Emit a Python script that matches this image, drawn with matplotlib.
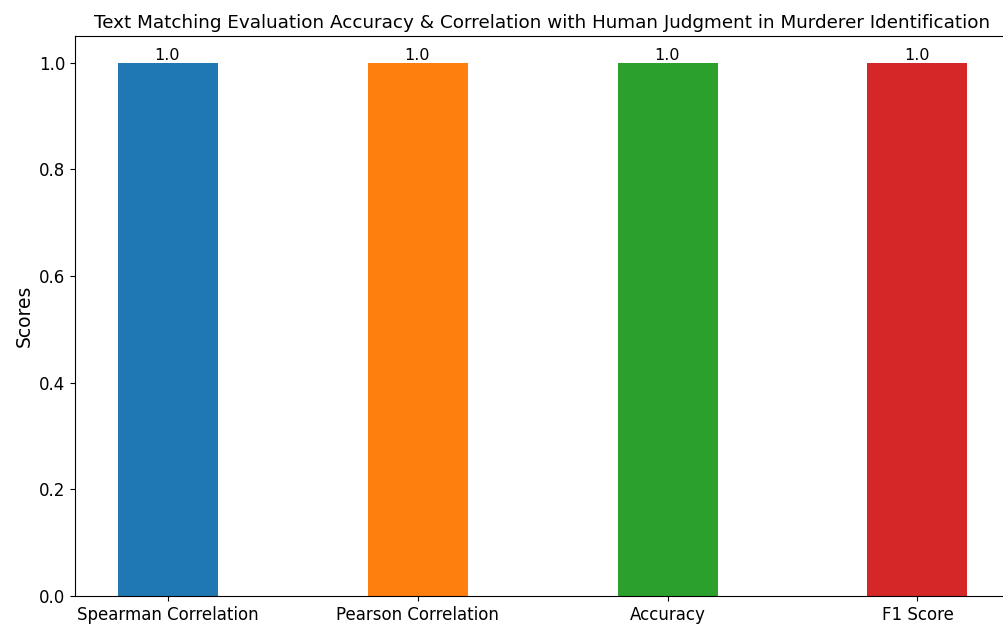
import matplotlib
matplotlib.use('Agg')
import matplotlib.pyplot as plt

metrics = ['Spearman Correlation', 'Pearson Correlation', 'Accuracy', 'F1 Score']
scores = [1.0, 1.0, 1.0, 1.0]
colors = ['#1f77b4', '#ff7f0e', '#2ca02c', '#d62728']

fig = plt.figure(figsize=(10.04, 6.27), dpi=100)
ax = fig.add_axes([75/1004, 31/627, 935/1004, 560/627])

bars = ax.bar(metrics, scores, color=colors, width=0.4)
for bar, s in zip(bars, scores):
    ax.text(bar.get_x() + bar.get_width()/2, bar.get_height(), str(s),
            ha='center', va='bottom', fontsize=11.5)

ax.tick_params(labelsize=12)
ax.set_ylabel('Scores', fontsize=13.5)
ax.set_title('Text Matching Evaluation Accuracy & Correlation with Human Judgment in Murderer Identification',
             fontsize=13.25)

fig.savefig('out.png', dpi=100)
